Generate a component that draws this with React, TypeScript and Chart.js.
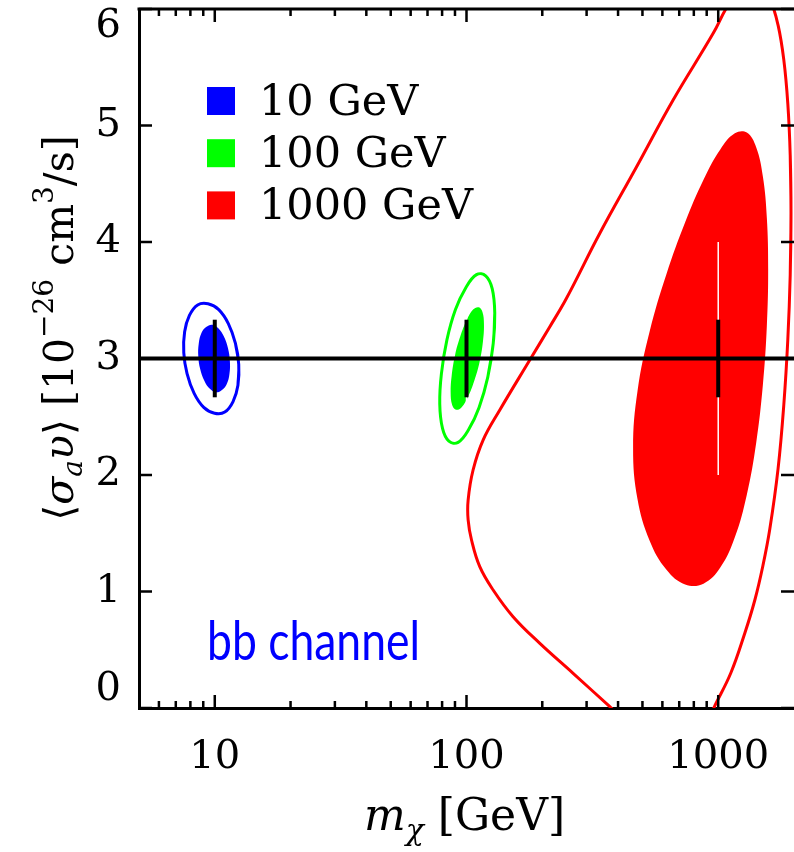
import React, { useEffect, useRef } from 'react';
import { Chart, registerables } from 'chart.js';

Chart.register(...registerables);

// ---------- axis ranges & ticks ----------
const X_MIN = 5;
const X_MAX = 2000;
const Y_MIN = 0;
const Y_MAX = 6;
const xMajorTicks = [10, 100, 1000];
const xMinorTicks = [6, 7, 8, 9, 20, 30, 40, 50, 60, 70, 80, 90, 200, 300, 400, 500, 600, 700, 800, 900];
const yTicks = [0, 1, 2, 3, 4, 5, 6];

// ---------- benchmark points ----------
const masses = [10, 100, 1000];
const legendLabels = ['10 GeV', '100 GeV', '1000 GeV'];
const seriesColors = ['#0000ff', '#00ff00', '#ff0000'];
const refCrossSection = 3;
const barLow = 2.667;
const barHigh = 3.333;
const whiteLow = 2;
const whiteHigh = 4;

// ---------- 10 GeV contours ----------
const blueInnerX = [11.48, 11.28, 10.86, 10.33, 9.76, 9.24, 8.86, 8.64, 8.6, 8.75, 9.09, 9.56, 10.12, 10.68, 11.15, 11.44];
const blueInnerY = [2.98, 3.09, 3.19, 3.26, 3.29, 3.27, 3.22, 3.13, 3.02, 2.91, 2.81, 2.74, 2.71, 2.73, 2.78, 2.87];
const blueOuterX = [12.45, 12.08, 11.32, 10.37, 9.4, 8.55, 7.93, 7.59, 7.53, 7.76, 8.28, 9.04, 9.98, 10.96, 11.82, 12.36];
const blueOuterY = [2.95, 3.13, 3.3, 3.42, 3.47, 3.46, 3.37, 3.23, 3.05, 2.87, 2.7, 2.58, 2.53, 2.54, 2.63, 2.77];

// ---------- 100 GeV contours ----------
const greenInnerX = [116.3, 117.3, 115.7, 111.8, 106.2, 100.2, 94.5, 90.1, 87.3, 86.5, 87.7, 90.8, 95.5, 101.3, 107.4, 112.7];
const greenInnerY = [3.15, 3.3, 3.4, 3.44, 3.42, 3.33, 3.19, 3.03, 2.85, 2.71, 2.6, 2.56, 2.58, 2.67, 2.81, 2.97];
const greenOuterX = [127.7, 129.5, 126.5, 119.2, 109.6, 99.5, 90.4, 83.6, 79.5, 78.3, 80.3, 85.1, 92.6, 102.0, 112.2, 121.5];
const greenOuterY = [3.13, 3.39, 3.6, 3.71, 3.72, 3.61, 3.42, 3.16, 2.87, 2.61, 2.4, 2.29, 2.28, 2.39, 2.58, 2.84];

// ---------- 1000 GeV contours ----------
const redInnerX = [1579, 1560, 1504, 1415, 1299, 1164, 1019, 874, 739, 623, 534, 478, 459, 478, 534, 623, 739, 874, 1019, 1164, 1299, 1415, 1504, 1560];
const redInnerY = [3.77, 4.209, 4.564, 4.813, 4.939, 4.933, 4.795, 4.535, 4.169, 3.725, 3.231, 2.721, 2.23, 1.791, 1.436, 1.187, 1.061, 1.067, 1.205, 1.465, 1.831, 2.275, 2.77, 3.279];
const redOuterX = [1946, 1932, 1890, 1822, 1729, 1615, 1483, 1337, 1181, 1072, 955, 662, 474, 338.6, 249.6, 214.3, 178.4, 135.6, 116.4, 106.2, 101.5, 101.5, 104.7, 112.9, 127.6, 153.1, 195.6, 265.2, 371, 475, 703, 871, 963, 1122, 1276, 1398, 1504, 1603, 1729, 1822, 1890, 1932];
const redOuterY = [4.25, 4.745, 5.187, 5.563, 5.861, 6.071, 6.188, 6.21, 6.132, 6.0, 5.791, 5.219, 4.646, 4.075, 3.517, 3.273, 2.987, 2.558, 2.3, 2.043, 1.785, 1.614, 1.442, 1.213, 1.013, 0.784, 0.555, 0.298, 0.011, -0.2, -0.3, -0.2, 0.006, 0.3, 0.644, 0.927, 1.219, 1.536, 2.055, 2.603, 3.163, 3.717];

const channelLabel = 'bb channel';

const SERIF = '"DejaVu Serif", "Liberation Serif", serif';

type Pt = { x: number; y: number };
const toPoints = (xs: number[], ys: number[]): Pt[] => xs.map((x, i) => ({ x, y: ys[i] }));
const toLoop = (xs: number[], ys: number[]): Pt[] => {
  const p = toPoints(xs, ys);
  return [p[p.length - 1], ...p, p[0], p[1]];
};

type Part = { t: string; size: number; italic?: boolean; dy?: number };
const partFont = (p: Part) => `${p.italic ? 'italic ' : ''}${p.size}px ${SERIF}`;
function drawRich(ctx: CanvasRenderingContext2D, parts: Part[], cx: number, base: number) {
  let w = 0;
  for (const p of parts) {
    ctx.font = partFont(p);
    w += ctx.measureText(p.t).width;
  }
  let x = cx - w / 2;
  ctx.textAlign = 'left';
  ctx.textBaseline = 'alphabetic';
  for (const p of parts) {
    ctx.font = partFont(p);
    ctx.fillText(p.t, x, base + (p.dy || 0));
    x += ctx.measureText(p.t).width;
  }
}

const yTitleParts: Part[] = [
  { t: '\u27E8', size: 41 },
  { t: '\u03C3', size: 41, italic: true },
  { t: 'a', size: 28, italic: true, dy: 9 },
  { t: '\u03C5', size: 41, italic: true },
  { t: '\u27E9', size: 41 },
  { t: ' [10', size: 41 },
  { t: '\u221226', size: 28, dy: -20 },
  { t: ' cm', size: 41 },
  { t: '3', size: 28, dy: -20 },
  { t: '/s]', size: 41 },
];
const xTitleParts: Part[] = [
  { t: 'm', size: 44, italic: true },
  { t: '\u03C7', size: 30, italic: true, dy: 10 },
  { t: ' [GeV]', size: 44 },
];

const decorPlugin = {
  id: 'decor',
  afterDraw(chart: any) {
    const { ctx, chartArea: a, scales } = chart;
    const xs = scales.x;
    const ys = scales.y;
    ctx.save();
    ctx.strokeStyle = '#000';
    ctx.lineCap = 'butt';
    // top frame line
    ctx.lineWidth = 3;
    ctx.beginPath();
    ctx.moveTo(a.left - 1.5, a.top);
    ctx.lineTo(a.right, a.top);
    ctx.stroke();
    // inward tick marks
    ctx.lineWidth = 2.5;
    ctx.beginPath();
    const tickX = (v: number, len: number) => {
      const px = xs.getPixelForValue(v);
      ctx.moveTo(px, a.bottom);
      ctx.lineTo(px, a.bottom - len);
      ctx.moveTo(px, a.top);
      ctx.lineTo(px, a.top + len);
    };
    xMajorTicks.forEach((v) => tickX(v, 13));
    xMinorTicks.forEach((v) => tickX(v, 7));
    yTicks.forEach((v) => {
      const py = ys.getPixelForValue(v);
      ctx.moveTo(a.left, py);
      ctx.lineTo(a.left + 13, py);
      ctx.moveTo(a.right, py);
      ctx.lineTo(a.right - 13, py);
    });
    ctx.stroke();

    // legend
    legendLabels.forEach((lab, i) => {
      const top = a.top + 78 + i * 52.2;
      ctx.fillStyle = seriesColors[i];
      ctx.fillRect(a.left + 68, top, 28, 28);
      ctx.fillStyle = '#000';
      ctx.font = `43px ${SERIF}`;
      ctx.textAlign = 'left';
      ctx.textBaseline = 'alphabetic';
      ctx.fillText(lab, a.left + 120, top + 27.6);
    });

    // channel label
    ctx.save();
    ctx.fillStyle = '#0000ff';
    ctx.font = '54px Lato, "Open Sans", sans-serif';
    const w = ctx.measureText(channelLabel).width;
    ctx.translate(a.left + 68, a.bottom - 48);
    ctx.scale(213 / w, 1);
    ctx.textAlign = 'left';
    ctx.textBaseline = 'alphabetic';
    ctx.fillText(channelLabel, 0, 0);
    ctx.restore();

    // axis titles
    ctx.fillStyle = '#000';
    drawRich(ctx, xTitleParts, (a.left + a.right) / 2 - 2, 830);
    ctx.save();
    ctx.translate(73, 328);
    ctx.rotate(-Math.PI / 2);
    drawRich(ctx, yTitleParts, 0, 0);
    ctx.restore();

    ctx.restore();
  },
};

export default function App() {
  const ref = useRef<HTMLCanvasElement>(null);

  useEffect(() => {
    const canvas = ref.current;
    if (!canvas) return;

    const common = { pointRadius: 0, pointHoverRadius: 0, clip: 0, fill: false };
    const datasets: any[] = [];

    // reference line
    datasets.push({
      ...common,
      label: 'reference',
      data: [{ x: X_MIN, y: refCrossSection }, { x: X_MAX, y: refCrossSection }],
      borderColor: '#000',
      borderWidth: 4,
      tension: 0,
      order: 0,
    });
    // black error bars
    masses.forEach((m) =>
      datasets.push({
        ...common,
        label: `bar ${m}`,
        data: [{ x: m, y: barLow }, { x: m, y: barHigh }],
        borderColor: '#000',
        borderWidth: 4,
        tension: 0,
        order: 1,
      })
    );
    // outer contours
    [
      [redOuterX, redOuterY, seriesColors[2]],
      [blueOuterX, blueOuterY, seriesColors[0]],
      [greenOuterX, greenOuterY, seriesColors[1]],
    ].forEach(([xs, ys, c]: any, i) =>
      datasets.push({
        ...common,
        label: `outer ${i}`,
        data: toLoop(xs, ys),
        borderColor: c,
        borderWidth: 3,
        tension: 0.4,
        order: 3,
      })
    );
    // white centre lines
    masses.forEach((m) =>
      datasets.push({
        ...common,
        label: `white ${m}`,
        data: [{ x: m, y: whiteLow }, { x: m, y: whiteHigh }],
        borderColor: '#ffffff',
        borderWidth: 1.5,
        tension: 0,
        order: 4,
      })
    );
    // filled inner contours
    [
      [redInnerX, redInnerY, seriesColors[2]],
      [greenInnerX, greenInnerY, seriesColors[1]],
      [blueInnerX, blueInnerY, seriesColors[0]],
    ].forEach(([xs, ys, c]: any, i) =>
      datasets.push({
        ...common,
        label: `inner ${i}`,
        data: toLoop(xs, ys),
        borderColor: 'rgba(0,0,0,0)',
        borderWidth: 1,
        backgroundColor: c,
        fill: 'shape',
        tension: 0.4,
        order: 5,
      })
    );

    const chart = new Chart(canvas, {
      type: 'line',
      data: { datasets },
      options: {
        responsive: false,
        animation: false,
        devicePixelRatio: 1,
        events: [],
        layout: { padding: { top: 9, left: 0, right: 0, bottom: 0 } },
        plugins: {
          legend: { display: false },
          tooltip: { enabled: false },
        },
        scales: {
          x: {
            type: 'logarithmic',
            position: 'bottom',
            min: X_MIN,
            max: X_MAX,
            bounds: 'data',
            grid: { display: false, drawTicks: false },
            border: { display: true, color: '#000', width: 3 },
            ticks: {
              autoSkip: false,
              maxRotation: 0,
              minRotation: 0,
              padding: 26,
              color: '#000',
              font: { family: SERIF, size: 40 },
              callback: (v: any) => (xMajorTicks.includes(Number(v)) ? String(v) : ''),
            },
            afterBuildTicks: (s: any) => {
              s.ticks = [...xMinorTicks, ...xMajorTicks].sort((p, q) => p - q).map((v) => ({ value: v }));
            },
            afterFit: (s: any) => {
              s.height = 144;
              s.paddingLeft = 0;
              s.paddingRight = 0;
            },
          },
          y: {
            type: 'linear',
            min: Y_MIN,
            max: Y_MAX,
            grid: { display: false, drawTicks: false },
            border: { display: true, color: '#000', width: 3 },
            ticks: {
              stepSize: 1,
              padding: 18,
              color: '#000',
              font: { family: SERIF, size: 40, lineHeight: '36px' },
              callback: (v: any) => {
                const n = Number(v);
                if (n === Y_MAX) return ['', String(n)];
                if (n === Y_MIN) return [String(n), ''];
                return String(n);
              },
            },
            afterFit: (s: any) => {
              s.width = 139;
              s.paddingTop = 0;
              s.paddingBottom = 0;
            },
          },
        },
      } as any,
      plugins: [decorPlugin],
    });

    return () => chart.destroy();
  }, []);

  return (
    <div
      style={{
        position: 'absolute',
        left: 0,
        top: 0,
        width: 794,
        height: 852,
        overflow: 'hidden',
        background: '#ffffff',
      }}
    >
      <canvas ref={ref} width={794} height={852} style={{ width: 794, height: 852, display: 'block' }} />
    </div>
  );
}
